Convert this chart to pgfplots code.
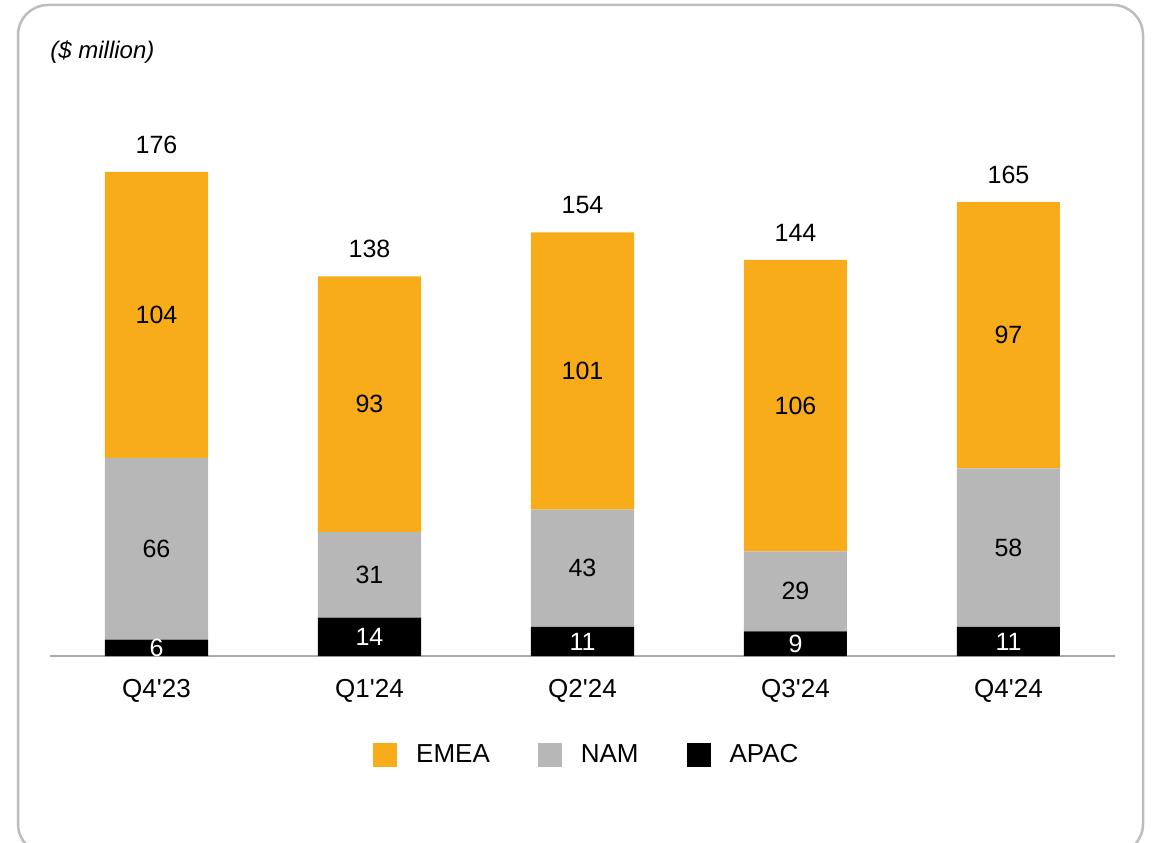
\documentclass[border=0pt]{standalone}
\usepackage{pgfplots}
\pgfplotsset{compat=1.18}
\usepackage{fontspec}
\setmainfont{Liberation Sans}
\definecolor{emea}{HTML}{F9AC1A}
\definecolor{nam}{HTML}{B7B7B7}
\definecolor{apac}{HTML}{000000}
\definecolor{framec}{HTML}{BDBDBD}
\definecolor{axisc}{HTML}{ABABAB}
\pgfplotsset{
  sqlegend/.style={legend image code/.code={\fill[##1] (0pt,-6pt) rectangle (12pt,6pt);}},
  geom/.style={
    at={(25pt,93pt)}, anchor=south west,
    scale only axis, width=532.5pt, height=275pt,
    xmin=-0.5, xmax=4.5, ymin=0, ymax=200,
    bar width=0.4836, clip=false,
    /pgf/number format/assume math mode=true,
    /pgf/number format/fixed, /pgf/number format/precision=0,
  },
}
\begin{document}
\begin{tikzpicture}[x=0.5pt,y=0.5pt]
\clip (0,0) rectangle (1153,842);
\path[use as bounding box] (0,0) rectangle (1153,842);
\draw[framec, line width=1.25pt, rounded corners=15pt] (18,-12) rectangle (1143,837);
\node[anchor=west, inner sep=0pt, font=\fontsize{12}{14}\selectfont\itshape] at (50,790) {(\$ million)};
\begin{axis}[
  geom,
  ybar stacked,
  axis y line=none, axis x line*=bottom,
  x axis line style={draw=axisc, line width=1pt, -},
  xtick={0,1,2,3,4}, xticklabels={Q4\textquotesingle23,Q1\textquotesingle24,Q2\textquotesingle24,Q3\textquotesingle24,Q4\textquotesingle24},
  major tick length=0pt, ytick=\empty,
  xticklabel style={font=\fontsize{13}{15}\selectfont, anchor=base, yshift=-20.75pt},
  nodes near coords,
  every node near coord/.append style={font=\fontsize{12.5}{14}\selectfont, anchor=center, inner sep=0pt},
  legend columns=3, reverse legend,
  legend style={draw=none, fill=none, at={(0.505,-0.18)}, anchor=center, font=\fontsize{13}{15}\selectfont,
    /tikz/every odd column/.append style={column sep=7.5pt},
    /tikz/every even column/.append style={column sep=22pt}},
]
\addplot[draw=none, fill=apac, sqlegend, nodes near coords style={text=white}] coordinates {(0,6) (1,14) (2,10.6) (3,9) (4,10.6)};
\addlegendentry{APAC}
\addplot[draw=none, fill=nam, sqlegend, nodes near coords style={text=black}] coordinates {(0,66) (1,31) (2,42.6) (3,29) (4,57.6)};
\addlegendentry{NAM}
\addplot[draw=none, fill=emea, sqlegend, nodes near coords style={text=black}] coordinates {(0,104) (1,93) (2,100.8) (3,106) (4,96.8)};
\addlegendentry{EMEA}
\end{axis}
\begin{axis}[
  geom, ybar=0pt, hide axis,
  nodes near coords,
  nodes near coords style={font=\fontsize{12.5}{14}\selectfont, anchor=center, inner sep=0pt, yshift=13.75pt, text=black},
]
\addplot[draw=none, fill=none] coordinates {(0,176) (1,138) (2,154) (3,144) (4,165)};
\end{axis}
\end{tikzpicture}
\end{document}
